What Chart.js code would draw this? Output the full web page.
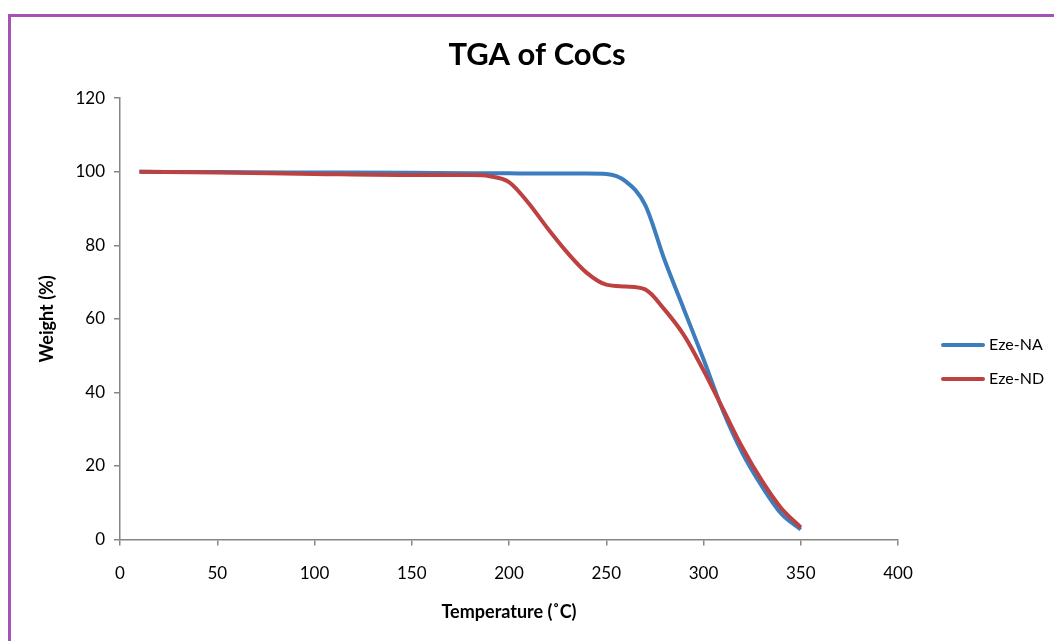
<!DOCTYPE html>
<html>
<head>
<meta charset="utf-8">
<title>TGA of CoCs</title>
<script src="https://cdn.jsdelivr.net/npm/chart.js@4"></script>
<style>
  html, body { margin: 0; padding: 0; background: #ffffff; overflow: hidden; }
  #wrap { position: relative; width: 1054px; height: 641px; }
  #frame {
    position: absolute; left: 8px; top: 14px; width: 1200px; height: 800px;
    border: 3px solid #a552b5; box-sizing: border-box;
  }
  #c { position: absolute; left: 0; top: 0; }
</style>
</head>
<body>
<div id="wrap">
  <div id="frame"></div>
  <canvas id="c" width="1054" height="641"></canvas>
</div>
<script>
// Temperature (°C) sample points
const temperatures = [10, 50, 100, 150, 180, 190, 200, 210, 220, 230, 240, 250, 260, 270, 280, 290, 300, 310, 320, 330, 340, 350];

// Weight (%) for each sample
const ezeNA = [100, 99.9, 99.8, 99.7, 99.6, 99.6, 99.6, 99.5, 99.5, 99.5, 99.5, 99.4, 97.4, 91, 76, 62.5, 49, 35, 23.5, 14.5, 7, 2.7];
const ezeND = [100, 99.8, 99.4, 99.1, 99.1, 98.8, 97.2, 91.5, 84.5, 78, 72.5, 69.3, 68.8, 68, 62.5, 55.5, 46, 35.5, 25, 16, 8.5, 3.3];

const seriesNames = ['Eze-NA', 'Eze-ND'];
const seriesColors = ['#3c7dbd', '#be4141'];

const xTicks = [0, 50, 100, 150, 200, 250, 300, 350, 400];
const yTicks = [0, 20, 40, 60, 80, 100, 120];

const toPoints = (xs, ys) => xs.map((x, i) => ({ x: x, y: ys[i] }));

const FONT = 'Lato, "Open Sans", sans-serif';
const AXIS_GREY = '#868686';

// Legend drawn to the right of the plot: short line sample followed by the name
const sideLegend = {
  id: 'sideLegend',
  afterDraw(chart) {
    const ctx = chart.ctx;
    const rows = [345, 379];
    ctx.save();
    chart.data.datasets.forEach((ds, i) => {
      const y = rows[i];
      ctx.strokeStyle = ds.borderColor;
      ctx.lineWidth = 4;
      ctx.lineCap = 'round';
      ctx.beginPath();
      ctx.moveTo(943, y);
      ctx.lineTo(983, y);
      ctx.stroke();
      ctx.fillStyle = '#000000';
      ctx.font = '16px ' + FONT;
      ctx.textAlign = 'left';
      ctx.textBaseline = 'middle';
      ctx.fillText(ds.label, 989, y);
    });
    ctx.restore();
  }
};

new Chart(document.getElementById('c'), {
  type: 'line',
  data: {
    datasets: [
      {
        label: seriesNames[0],
        data: toPoints(temperatures, ezeNA),
        borderColor: seriesColors[0],
        backgroundColor: seriesColors[0],
        borderWidth: 4,
        pointRadius: 0,
        cubicInterpolationMode: 'monotone',
        order: 1
      },
      {
        label: seriesNames[1],
        data: toPoints(temperatures, ezeND),
        borderColor: seriesColors[1],
        backgroundColor: seriesColors[1],
        borderWidth: 4,
        pointRadius: 0,
        cubicInterpolationMode: 'monotone',
        order: 0
      }
    ]
  },
  options: {
    responsive: false,
    animation: false,
    events: [],
    layout: { padding: { left: 20, right: 0, top: 0, bottom: 0 } },
    plugins: {
      legend: { display: false },
      tooltip: { enabled: false },
      title: {
        display: true,
        text: 'TGA of CoCs',
        color: '#000000',
        font: { family: FONT, size: 31, weight: 'bold', lineHeight: 1.2 },
        padding: { top: 36, bottom: 25 }
      }
    },
    scales: {
      x: {
        type: 'linear',
        min: 0,
        max: 400,
        afterBuildTicks(scale) { scale.ticks = xTicks.map(v => ({ value: v })); },
        afterFit(scale) { scale.height = 101.5; },
        border: { display: true, color: AXIS_GREY, width: 1.5 },
        grid: { display: true, drawOnChartArea: false, drawTicks: true, tickLength: 6, color: AXIS_GREY, lineWidth: 1.5 },
        ticks: { color: '#000000', padding: 18, font: { family: FONT, size: 17 }, maxRotation: 0 },
        title: {
          display: true,
          text: 'Temperature (˚C)',
          color: '#000000',
          font: { family: FONT, size: 18, weight: 'bold', lineHeight: 1.2 },
          padding: { top: 0, bottom: 18 }
        }
      },
      y: {
        type: 'linear',
        min: 0,
        max: 120,
        afterBuildTicks(scale) { scale.ticks = yTicks.map(v => ({ value: v })); },
        afterFit(scale) { scale.width = 100; },
        border: { display: true, color: AXIS_GREY, width: 1.5 },
        grid: { display: true, drawOnChartArea: false, drawTicks: true, tickLength: 6, color: AXIS_GREY, lineWidth: 1.5 },
        ticks: { color: '#000000', padding: 9, font: { family: FONT, size: 17 } },
        title: {
          display: true,
          text: 'Weight (%)',
          color: '#000000',
          font: { family: FONT, size: 18, weight: 'bold', lineHeight: 1.2 },
          padding: { top: 16, bottom: 0 }
        }
      },
      // blank strip on the right that reserves room for the legend
      legendSpace: {
        type: 'linear',
        position: 'right',
        display: true,
        afterFit(scale) { scale.width = 156; },
        border: { display: false },
        grid: { display: false },
        ticks: { display: false }
      }
    }
  },
  plugins: [sideLegend]
});
</script>
</body>
</html>
